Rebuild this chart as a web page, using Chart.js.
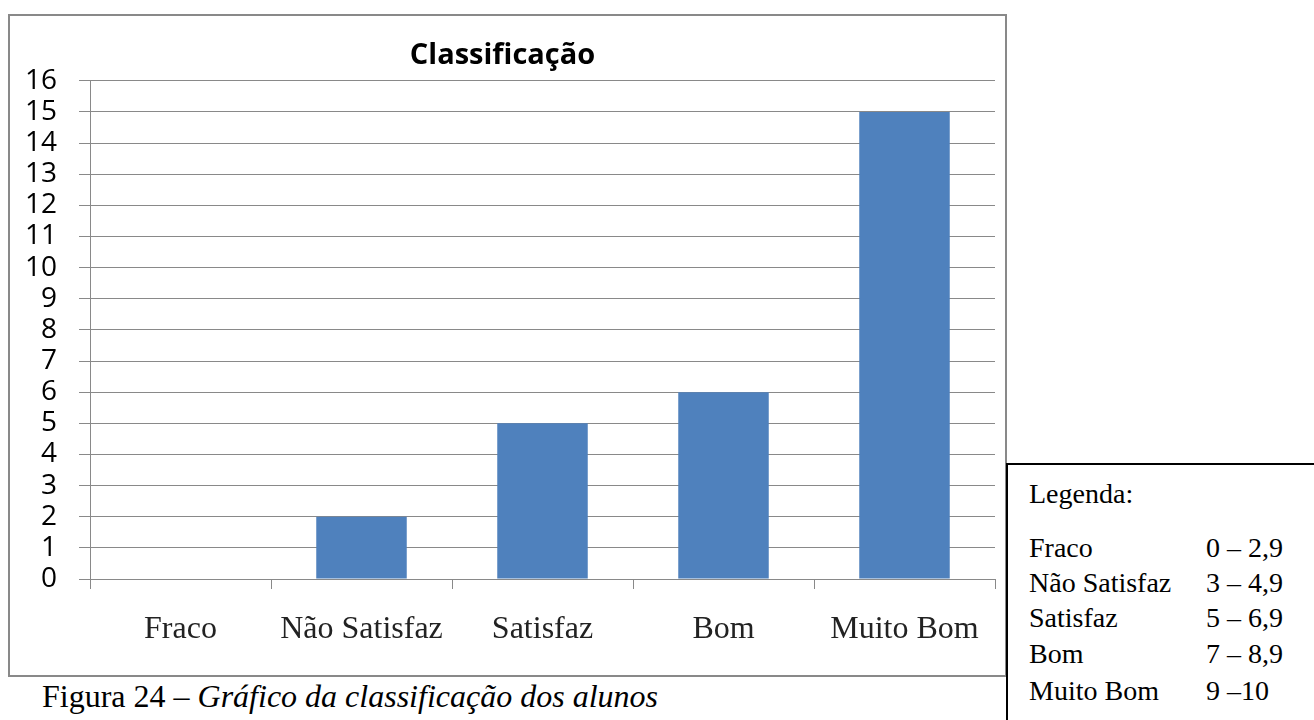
<!DOCTYPE html>
<html>
<head>
<meta charset="utf-8">
<script src="https://cdn.jsdelivr.net/npm/chart.js@4.4.1/dist/chart.umd.min.js"></script>
<style>
  html, body { margin: 0; padding: 0; background: #fff; width: 1314px; height: 720px; overflow: hidden; position: relative; }
  #box { position: absolute; left: 8px; top: 14px; width: 995px; height: 659px; border: 2px solid #898989; }
  #box canvas { display: block; }
  #legend { position: absolute; left: 1006px; top: 463px; width: 400px; height: 400px; border: 2px solid #000; font-family: "Liberation Serif", "Times New Roman", serif; font-size: 28px; color: #000; }
  .lg { position: absolute; white-space: nowrap; line-height: 35px; }
  #caption { position: absolute; left: 42px; top: 680px; font-family: "Liberation Serif", "Times New Roman", serif; font-size: 32px; line-height: 32px; color: #000; white-space: nowrap; }
</style>
</head>
<body>
<div id="box"><canvas id="c"></canvas></div>
<div id="legend"></div>
<div id="caption">Figura 24 – <i>Gráfico da classificação dos alunos</i></div>
<script>
const categories = ["Fraco", "Não Satisfaz", "Satisfaz", "Bom", "Muito Bom"];
const counts = [0, 2, 5, 6, 15];
const chartTitle = "Classificação";
const legendTitle = "Legenda:";
const legendLabels = ["Fraco", "Não Satisfaz", "Satisfaz", "Bom", "Muito Bom"];
const legendRanges = ["0 – 2,9", "3 – 4,9", "5 – 6,9", "7 – 8,9", "9 –10"];

// Legend text box
const lg = document.getElementById('legend');
const tops = [476, 530, 565, 600, 636, 673];
function addLine(text, left, top) {
  const d = document.createElement('div');
  d.className = 'lg';
  d.textContent = text;
  d.style.left = (left - 1008) + 'px';
  d.style.top = (top - 465) + 'px';
  lg.appendChild(d);
}
addLine(legendTitle, 1029, tops[0]);
legendLabels.forEach((t, i) => {
  addLine(t, 1029, tops[i + 1]);
  addLine(legendRanges[i], 1206, tops[i + 1]);
});

const gridColor = '#898989';
new Chart(document.getElementById('c'), {
  type: 'bar',
  data: {
    labels: categories,
    datasets: [{
      data: counts,
      backgroundColor: '#4F81BD',
      borderWidth: 0,
      barPercentage: 0.5,
      categoryPercentage: 1.0
    }]
  },
  options: {
    responsive: true,
    maintainAspectRatio: false,
    animation: false,
    layout: { padding: { top: 0, right: 10, bottom: 0, left: 0 } },
    plugins: {
      legend: { display: false },
      tooltip: { enabled: false },
      title: {
        display: true,
        text: chartTitle,
        color: '#000',
        font: { family: '"Open Sans", sans-serif', size: 29, weight: 'bold' },
        padding: { top: 22, bottom: 8 }
      }
    },
    scales: {
      x: {
        grid: { display: true, drawOnChartArea: false, drawTicks: true, tickLength: 10, color: gridColor, offset: true },
        border: { display: true, color: gridColor, width: 1 },
        ticks: { color: '#222', font: { family: '"Liberation Serif", serif', size: 32 }, padding: 21, maxRotation: 0, autoSkip: false },
        afterFit: (s) => { s.height = 96; }
      },
      y: {
        min: 0,
        max: 16,
        grid: { color: gridColor, lineWidth: 1, tickLength: 11 },
        border: { display: true, color: gridColor, width: 1 },
        ticks: { stepSize: 1, autoSkip: false, color: '#000', font: { family: '"Open Sans", sans-serif', size: 28 }, padding: 22 },
        afterFit: (s) => { s.width = 80; }
      }
    }
  }
});
</script>
</body>
</html>
